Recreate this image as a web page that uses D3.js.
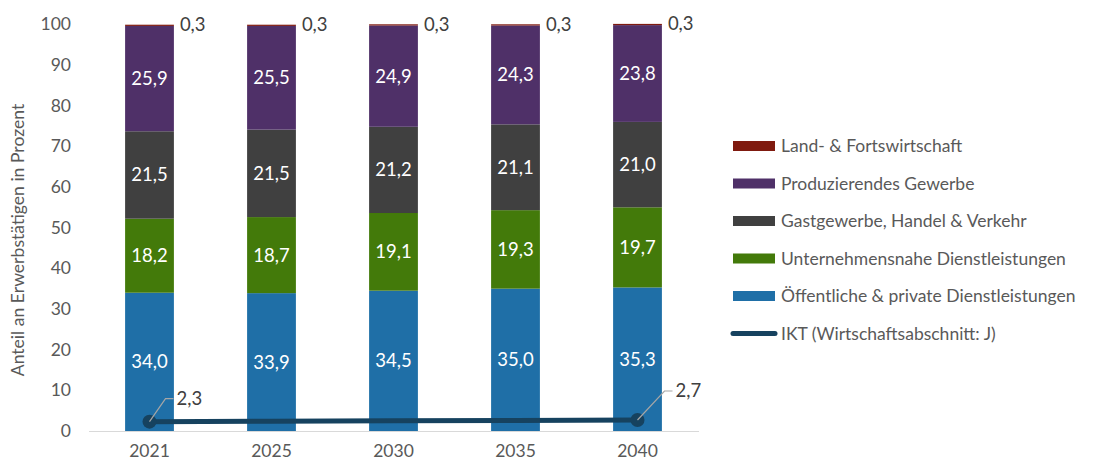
<!DOCTYPE html>
<html>
<head>
<meta charset="utf-8">
<script src="https://cdn.jsdelivr.net/npm/d3@7"></script>
<style>
  body { margin: 0; background: #fff; }
  text { font-family: Lato, "Open Sans", sans-serif; }
</style>
</head>
<body>
<div id="chart"></div>
<script>
// data
const years = ["2021", "2025", "2030", "2035", "2040"];
const oeffentlich = [34.0, 33.9, 34.5, 35.0, 35.3];
const unternehmen = [18.2, 18.7, 19.1, 19.3, 19.7];
const gastgewerbe = [21.5, 21.5, 21.2, 21.1, 21.0];
const produzierend = [25.9, 25.5, 24.9, 24.3, 23.8];
const landforst = [0.3, 0.3, 0.3, 0.3, 0.3];
const ikt = [2.3, 2.4, 2.5, 2.6, 2.7];
const yTicks = [0, 10, 20, 30, 40, 50, 60, 70, 80, 90, 100];

const seriesNames = ["Öffentliche & private Dienstleistungen", "Unternehmensnahe Dienstleistungen",
  "Gastgewerbe, Handel & Verkehr", "Produzierendes Gewerbe", "Land- & Fortswirtschaft"];
const seriesVals = [oeffentlich, unternehmen, gastgewerbe, produzierend, landforst];
const seriesColors = ["#1f6fa7", "#437a0a", "#404040", "#4f3068", "#7f1a0f"];
const iktName = "IKT (Wirtschaftsabschnitt: J)";
const iktColor = "#16425f";

const W = 1097, H = 464;
const svg = d3.select("#chart").append("svg").attr("width", W).attr("height", H);

const x = d3.scaleBand().domain(years).range([88.5, 698.5]).paddingInner(0.6).paddingOuter(0.3);
const y = d3.scaleLinear().domain([0, 100]).range([431, 24.3]);

const fmt = v => d3.format(".1f")(v).replace(".", ",");

// stacked data
const rows = years.map((yr, i) => {
  const r = {year: yr};
  seriesNames.forEach((n, k) => r[n] = seriesVals[k][i]);
  return r;
});
const stacked = d3.stack().keys(seriesNames)(rows);

const layers = svg.append("g").selectAll("g")
  .data(stacked).join("g")
  .attr("fill", (d, k) => seriesColors[k]);

layers.selectAll("rect")
  .data(d => d)
  .join("rect")
  .attr("x", d => x(d.data.year))
  .attr("width", x.bandwidth())
  .attr("y", d => y(d[1]))
  .attr("height", d => y(d[0]) - y(d[1]));

// labels in bars
stacked.forEach((layer, k) => {
  if (k === 4) {
    svg.append("g").selectAll("text").data(layer).join("text")
      .attr("x", d => x(d.data.year) + x.bandwidth() + 6)
      .attr("y", d => y(d[1]))
      .attr("dy", "0.35em")
      .attr("font-size", 18.5)
      .attr("fill", "#404040")
      .text((d, i) => fmt(seriesVals[k][i]));
  } else {
    svg.append("g").selectAll("text").data(layer).join("text")
      .attr("x", d => x(d.data.year) + x.bandwidth() / 2)
      .attr("y", d => (y(d[0]) + y(d[1])) / 2)
      .attr("dy", "0.35em")
      .attr("text-anchor", "middle")
      .attr("font-size", 18.5)
      .attr("fill", "#fff")
      .text((d, i) => fmt(seriesVals[k][i]));
  }
});

// x axis
const xAxis = svg.append("g")
  .attr("transform", "translate(0,431)")
  .call(d3.axisBottom(x).tickSize(0).tickPadding(14));
xAxis.select(".domain").attr("stroke", "#d9d9d9").attr("stroke-width", 1.2);
xAxis.selectAll("text").attr("font-size", 17.5).attr("fill", "#595959")
  .attr("font-family", "Lato, sans-serif");

// y axis
const yAxis = svg.append("g")
  .attr("transform", "translate(71,0)")
  .call(d3.axisLeft(y).tickValues(yTicks).tickSize(0).tickPadding(0));
yAxis.select(".domain").remove();
yAxis.selectAll("text").attr("font-size", 17.5).attr("fill", "#595959")
  .attr("font-family", "Lato, sans-serif");

svg.append("text")
  .attr("transform", "translate(24,240) rotate(-90)")
  .attr("text-anchor", "middle")
  .attr("font-size", 17.6)
  .attr("fill", "#595959")
  .text("Anteil an Erwerbstätigen in Prozent");

// IKT line
const cx = d => x(d) + x.bandwidth() / 2;
svg.append("path")
  .datum(years.map((yr, i) => [cx(yr), y(ikt[i])]))
  .attr("fill", "none")
  .attr("stroke", iktColor)
  .attr("stroke-width", 5)
  .attr("stroke-linecap", "round")
  .attr("d", d3.line());

const marked = [0, years.length - 1];
marked.forEach(i => {
  const px = cx(years[i]), py = y(ikt[i]);
  svg.append("circle").attr("cx", px).attr("cy", py).attr("r", 7).attr("fill", iktColor);
  const dx = i === 0 ? 16 : 27;
  const ly = py - (i === 0 ? 23 : 29);
  svg.append("path")
    .attr("d", `M${px},${py}L${px + dx},${ly}L${px + dx + 8},${ly}`)
    .attr("fill", "none").attr("stroke", "#a6a6a6").attr("stroke-width", 1.2);
  svg.append("text")
    .attr("x", px + dx + 11).attr("y", ly).attr("dy", "0.35em")
    .attr("font-size", 18.5).attr("fill", "#404040")
    .text(fmt(ikt[i]));
});

// legend
const legend = svg.append("g").attr("transform", "translate(733,0)");
const legendItems = [
  {name: seriesNames[4], color: seriesColors[4]},
  {name: seriesNames[3], color: seriesColors[3]},
  {name: seriesNames[2], color: seriesColors[2]},
  {name: seriesNames[1], color: seriesColors[1]},
  {name: seriesNames[0], color: seriesColors[0]},
  {name: iktName, color: iktColor, line: true}
];
legendItems.forEach((it, i) => {
  const ly = 146 + i * 37.5;
  if (it.line) {
    legend.append("line").attr("x1", 0).attr("x2", 42).attr("y1", ly).attr("y2", ly)
      .attr("stroke", it.color).attr("stroke-width", 5).attr("stroke-linecap", "round");
  } else {
    legend.append("rect").attr("x", 0).attr("y", ly - 5).attr("width", 42).attr("height", 10)
      .attr("fill", it.color);
  }
  legend.append("text").attr("x", 48).attr("y", ly).attr("dy", "0.35em")
    .attr("font-size", 17.5).attr("fill", "#595959").text(it.name);
});
</script>
</body>
</html>
